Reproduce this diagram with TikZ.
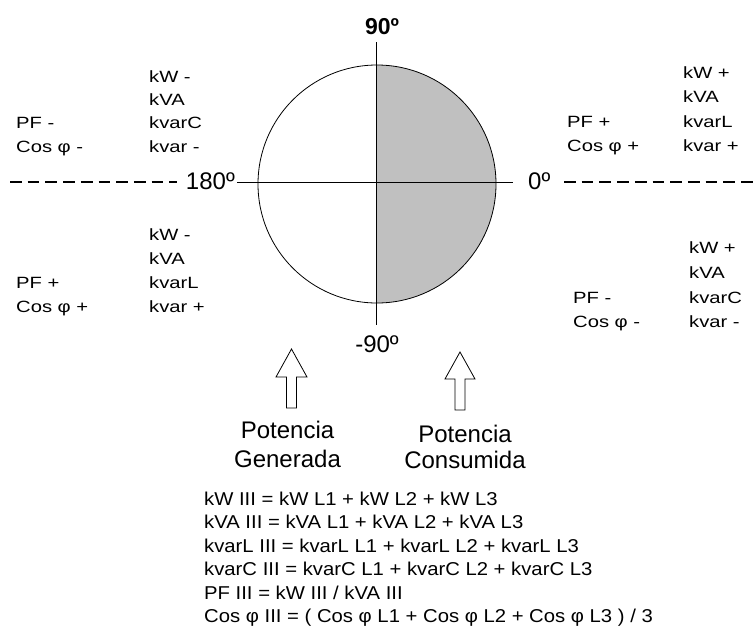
\documentclass[tikz,border=0pt]{standalone}
\usepackage{fontspec}
\setmainfont{Liberation Sans}
\newfontfamily\labfont[FakeStretch=1.24]{Liberation Sans}
\newfontfamily\eqfont[FakeStretch=1.09]{Liberation Sans}
\definecolor{halfgray}{RGB}{192,192,192}
\begin{document}
\begin{tikzpicture}[x=1pt,y=-1pt,
  lab/.style={font=\labfont\fontsize{16.3}{20}\selectfont, anchor=base west, inner sep=0pt},
  eq/.style={font=\eqfont\fontsize{18.6}{22}\selectfont, anchor=base west, inner sep=0pt},
  big/.style={font=\fontsize{24}{28}\selectfont, inner sep=0pt},
  axis line/.style={line width=0.9pt},
  guide/.style={line width=1.6pt, dash pattern=on 11.7pt off 6pt},
  blockarrow/.style={draw, fill=white, line width=0.8pt, line join=miter}]
\useasboundingbox (0,0) rectangle (756,630);

% circle with right half shaded
\begin{scope}
  \clip (377,0) rectangle (756,630);
  \fill[halfgray] (377,184) circle[radius=119pt];
\end{scope}
\node[circle, draw, line width=0.8pt, minimum size=238pt, inner sep=0pt] (circ) at (377,184) {};

% axes
\coordinate (vt) at (376.7,42);
\coordinate (vb) at (376.7,325);
\coordinate (hl) at (237,182);
\coordinate (hr) at (513,182);
\draw[axis line] (vt) -- (vb);
\draw[axis line] (hl) -- (hr);

% angle labels
\node[font=\bfseries\fontsize{23}{27}\selectfont, anchor=base, inner sep=0pt] (t90) at (382,34) {90º};
\node[big, anchor=base east] (t180) at (235,189) {180º};
\node[big, anchor=base west] (t0) at (528,189) {0º};
\node[big, anchor=base] (tm90) at (377,352) {-90º};

% dashed guides
\coordinate (dl1) at (10,182);
\coordinate (dl2) at (177,182);
\coordinate (dr1) at (564,182);
\coordinate (dr2) at (756,182);
\draw[guide] (dl1) -- (dl2);
\draw[guide] (dr1) -- (dr2);

% upper-left quadrant
\node[lab] (ul1) at (149,82) {kW -};
\node[lab] (ul2) at (149,105.3) {kVA};
\node[lab] (ul3) at (149,128.6) {kvarC};
\node[lab] (ul4) at (149,152) {kvar -};
\node[lab] (ulp1) at (16,128.6) {PF -};
\node[lab] (ulp2) at (16,152) {Cos φ -};

% lower-left quadrant
\node[lab] (ll1) at (149,240) {kW -};
\node[lab] (ll2) at (149,264) {kVA};
\node[lab] (ll3) at (149,288) {kvarL};
\node[lab] (ll4) at (149,312) {kvar +};
\node[lab] (llp1) at (16,288) {PF +};
\node[lab] (llp2) at (16,312) {Cos φ +};

% upper-right quadrant
\node[lab] (ur1) at (683,78) {kW +};
\node[lab] (ur2) at (683,102.5) {kVA};
\node[lab] (ur3) at (683,127) {kvarL};
\node[lab] (ur4) at (683,151.5) {kvar +};
\node[lab] (urp1) at (567,127) {PF +};
\node[lab] (urp2) at (567,151.5) {Cos φ +};

% lower-right quadrant
\node[lab] (lr1) at (689,253) {kW +};
\node[lab] (lr2) at (689,278) {kVA};
\node[lab] (lr3) at (689,303) {kvarC};
\node[lab] (lr4) at (689,327) {kvar -};
\node[lab] (lrp1) at (573,303) {PF -};
\node[lab] (lrp2) at (573,327) {Cos φ -};

% block arrows
\draw[blockarrow] (291.5,349) -- (307,377) -- (296.5,377) -- (296.5,408)
  -- (286.5,408) -- (286.5,377) -- (276,377) -- cycle;
\draw[blockarrow] (460,352) -- (475,379) -- (465,379) -- (465,410)
  -- (455,410) -- (455,379) -- (445,379) -- cycle;

% captions
\node[big, anchor=base] (pg1) at (287.5,438) {Potencia};
\node[big, anchor=base] (pg2) at (287.5,467) {Generada};
\node[big, anchor=base] (pc1) at (465,442) {Potencia};
\node[big, anchor=base] (pc2) at (465,468.5) {Consumida};

% formulas
\node[eq] (f1) at (204,505.5) {kW III = kW L1 + kW L2 + kW L3};
\node[eq] (f2) at (204,528.9) {kVA III = kVA L1 + kVA L2 + kVA L3};
\node[eq] (f3) at (204,552.3) {kvarL III = kvarL L1 + kvarL L2 + kvarL L3};
\node[eq] (f4) at (204,575.7) {kvarC III = kvarC L1 + kvarC L2 + kvarC L3};
\node[eq] (f5) at (204,599.1) {PF III = kW III / kVA III};
\node[eq] (f6) at (204,622.5) {Cos φ III = ( Cos φ L1 + Cos φ L2 + Cos φ L3 ) / 3};
\end{tikzpicture}
\end{document}
